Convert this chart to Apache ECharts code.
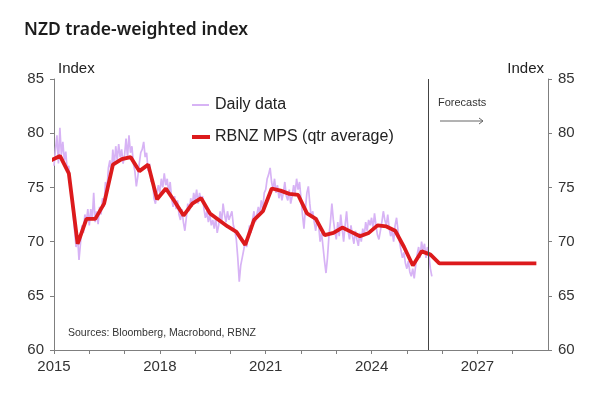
<!DOCTYPE html>
<html>
<head>
<meta charset="utf-8">
<script src="https://cdn.jsdelivr.net/npm/echarts@6/dist/echarts.min.js"></script>
<style>
  html, body { margin: 0; padding: 0; background: #fff; }
  #chart { width: 600px; height: 397px; }
</style>
</head>
<body>
<div id="chart"></div>
<script>
// daily TWI at roughly two points per month (24 per year)
const dailyStart = 2015
const dailyPerYear = 24
const dailyValues = [
  // 2015
  77.0, 78.5, 79.8, 77.2, 80.5, 78.0, 79.2, 77.5, 78.3, 76.5, 77.0, 75.2,
  74.0, 72.5, 71.0, 69.5, 70.5, 68.3, 69.8, 71.5, 70.8, 72.5, 71.8, 73.0,
  // 2016
  71.5, 73.0, 72.0, 74.5, 71.8, 72.8, 71.6, 73.2, 72.5, 74.0, 73.2, 75.5,
  74.8, 76.8, 77.5, 76.2, 78.5, 77.0, 78.8, 77.5, 79.0, 77.8, 78.5, 77.2,
  // 2017
  78.0, 79.5, 77.8, 79.8, 78.2, 78.8, 77.2, 76.5, 75.1, 76.0, 77.2, 78.2,
  78.5, 79.2, 77.8, 78.2, 76.5, 77.2, 75.5, 75.8, 74.0, 73.5, 74.5, 75.2,
  // 2018
  74.5, 75.8, 75.0, 76.3, 75.2, 75.8, 74.5, 75.5, 74.0, 73.2, 74.2, 73.0,
  73.8, 72.5, 72.0, 73.0, 71.8, 71.0, 72.2, 73.5, 72.8, 74.0, 73.2, 74.5,
  // 2019
  73.8, 74.8, 73.5, 74.5, 73.8, 74.2, 73.0, 72.2, 72.8, 71.8, 72.5, 71.5,
  72.0, 71.2, 72.2, 70.8, 71.5, 72.8, 71.8, 73.5, 72.5, 71.8, 72.8, 72.0,
  // 2020
  72.0, 72.8, 71.5, 71.0, 70.2, 68.5, 66.3, 67.8, 68.5, 69.2, 70.0, 69.5,
  70.5, 71.5, 70.8, 72.0, 72.8, 71.8, 72.5, 73.2, 72.5, 73.8, 73.0, 74.5,
  // 2021
  74.8, 75.8, 76.2, 76.8, 75.5, 74.8, 75.8, 74.5, 75.2, 74.0, 74.8, 73.8,
  74.5, 75.5, 74.2, 73.8, 74.8, 73.5, 74.2, 75.2, 74.5, 75.8, 74.8, 75.5,
  // 2022
  74.0, 72.5, 71.2, 73.0, 74.5, 75.1, 73.5, 72.2, 72.8, 71.8, 71.0, 72.2,
  71.5, 70.0, 70.8, 69.5, 68.2, 67.1, 68.5, 70.5, 71.8, 73.5, 72.0, 71.0,
  // 2023
  70.2, 71.8, 70.5, 72.5, 71.2, 70.0, 71.5, 72.8, 71.0, 70.2, 71.5, 70.5,
  69.8, 71.0, 70.2, 69.6, 70.8, 70.0, 71.2, 70.5, 71.8, 71.0, 72.0, 71.5,
  // 2024
  72.2, 71.2, 72.6, 71.5, 70.6, 70.2, 71.0, 71.8, 72.8, 72.0, 71.5, 72.5,
  71.2, 70.5, 71.0, 70.0, 71.5, 72.2, 71.0, 70.0, 69.2, 68.5, 69.0, 68.0,
  // 2025
  67.5, 68.2, 67.2, 66.8, 67.5, 66.6, 67.8, 68.8, 69.5, 68.5, 70.0, 69.2,
  69.8, 68.5, 69.5, 68.8, 67.5, 66.8
]

// RBNZ MPS quarterly averages, first point sits just left of the axis
const mpsStart = 2014.92
const mpsStep = 0.25
const mpsValues = [
  77.5, 77.9, 76.3, 69.8, 72.1, 72.1, 73.5, 77.1, 77.6, 77.8,
  76.5, 77.1, 73.9, 74.9, 73.7, 72.4, 73.5, 74.0, 72.6, 72.0,
  71.4, 70.9, 69.7, 72.0, 72.8, 74.9, 74.7, 74.4, 74.3, 72.6,
  72.1, 70.6, 70.8, 71.3, 70.9, 70.5, 70.8, 71.5, 71.4, 71.0,
  69.5, 67.8, 69.1, 68.8, 68.0, 68.0, 68.0, 68.0, 68.0, 68.0,
  68.0, 68.0, 68.0, 68.0, 68.0, 68.0
]

const forecastStart = 2025.6
const yearLabels = [2015, 2018, 2021, 2024, 2027]

const dailyData = dailyValues.map((v, i) => [dailyStart + i / dailyPerYear, v])
const mpsData = mpsValues.map((v, i) => [mpsStart + i * mpsStep, v])

const font = 'Liberation Sans, Arial, sans-serif'
const axisGrey = '#7f7f7f'
const lavender = '#d7b3f5'
const red = '#dc1a1c'

const chart = echarts.init(document.getElementById('chart'), null, { renderer: 'canvas' })
const yAxisBase = {
  type: 'value',
  min: 60,
  max: 85,
  interval: 5,
  name: 'Index',
  nameGap: 3,
  splitLine: { show: false },
  axisLine: { show: true, lineStyle: { color: axisGrey, width: 1 } },
  axisTick: { show: true, length: 4, lineStyle: { color: axisGrey } },
  axisLabel: { fontSize: 15, color: '#333', fontFamily: font, margin: 10 }
}
let option = {
  animation: false,
  backgroundColor: '#fff',
  title: {
    text: 'NZD trade-weighted index',
    left: 19,
    top: 16,
    textStyle: { fontSize: 17.5, fontWeight: 600, color: '#1c1c1c', fontFamily: 'Noto Sans, sans-serif' }
  },
  grid: { left: 54, right: 52, top: 79, bottom: 47 },
  xAxis: {
    type: 'value',
    min: 2015,
    max: 2029,
    interval: 1,
    splitLine: { show: false },
    axisLine: { lineStyle: { color: axisGrey, width: 1 } },
    axisTick: { show: true, length: 4, lineStyle: { color: axisGrey } },
    axisLabel: {
      fontSize: 15,
      color: '#333',
      fontFamily: font,
      margin: 9,
      showMinLabel: true,
      showMaxLabel: false,
      formatter: v => (yearLabels.indexOf(v) >= 0 ? String(v) : '')
    }
  },
  yAxis: [
    Object.assign({}, yAxisBase, {
      position: 'left',
      nameTextStyle: { fontSize: 15, color: '#222', fontFamily: font, align: 'left', padding: [0, 0, 0, 4] }
    }),
    Object.assign({}, yAxisBase, {
      position: 'right',
      nameTextStyle: { fontSize: 15, color: '#222', fontFamily: font, align: 'right', padding: [0, 4, 0, 0] }
    })
  ],
  graphic: [
    // legend drawn by hand so the samples are plain lines
    {
      type: 'line',
      shape: { x1: 192, y1: 105, x2: 209, y2: 105 },
      style: { stroke: lavender, lineWidth: 2 }
    },
    {
      type: 'text',
      x: 215,
      y: 105,
      style: { text: 'Daily data', fontSize: 16, fill: '#222', fontFamily: font, verticalAlign: 'middle' }
    },
    {
      type: 'line',
      shape: { x1: 192, y1: 137, x2: 210, y2: 137 },
      style: { stroke: red, lineWidth: 4 }
    },
    {
      type: 'text',
      x: 215,
      y: 137,
      style: { text: 'RBNZ MPS (qtr average)', fontSize: 16, fill: '#222', fontFamily: font, verticalAlign: 'middle' }
    },
    {
      type: 'text',
      left: 68,
      top: 328,
      style: { text: 'Sources: Bloomberg, Macrobond, RBNZ', fontSize: 10.5, fill: '#333', fontFamily: font }
    },
    {
      type: 'text',
      left: 438,
      top: 97,
      style: { text: 'Forecasts', fontSize: 11, fill: '#333', fontFamily: font }
    },
    {
      type: 'polyline',
      shape: { points: [[440, 121], [483, 121]] },
      style: { stroke: '#666', lineWidth: 1 }
    },
    {
      type: 'polyline',
      shape: { points: [[479, 118], [483, 121], [479, 124]] },
      style: { stroke: '#666', lineWidth: 1, fill: null }
    }
  ],
  series: [
    {
      name: 'Daily data',
      type: 'line',
      data: dailyData,
      symbol: 'none',
      showSymbol: false,
      color: lavender,
      lineStyle: { width: 1.7, color: lavender },
      z: 2
    },
    {
      name: 'RBNZ MPS (qtr average)',
      type: 'line',
      data: mpsData,
      symbol: 'none',
      showSymbol: false,
      color: red,
      lineStyle: { width: 3.8, color: red },
      z: 3,
      markLine: {
        silent: true,
        symbol: 'none',
        label: { show: false },
        lineStyle: { color: '#444', type: 'solid', width: 1 },
        data: [{ xAxis: forecastStart }]
      }
    }
  ]
}
chart.setOption(option)
</script>
</body>
</html>
